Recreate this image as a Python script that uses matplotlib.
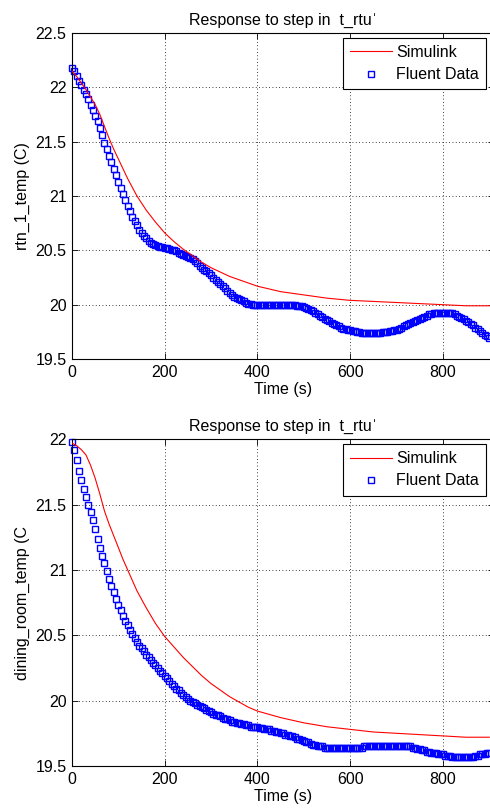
import numpy as np
import matplotlib.pyplot as plt

plt.rcParams['font.family'] = ['Liberation Sans', 'DejaVu Sans']

# Fluent data sampled every 5 s (0..900)
t_fluent = np.arange(0, 905, 5)

rtn_fluent = [
    22.18, 22.15, 22.10, 22.06, 22.02, 21.98, 21.94, 21.89, 21.84, 21.79,
    21.74, 21.69, 21.63, 21.56, 21.49, 21.43, 21.37, 21.31, 21.25, 21.19,
    21.13, 21.07, 21.02, 20.96, 20.91, 20.86, 20.81, 20.77, 20.73, 20.69,
    20.66, 20.63, 20.61, 20.59, 20.57, 20.56, 20.55, 20.54, 20.53, 20.53,
    20.52, 20.52, 20.51, 20.50, 20.50, 20.49, 20.48, 20.47, 20.46, 20.45,
    20.44, 20.43, 20.42, 20.40, 20.38, 20.36, 20.34, 20.32, 20.31, 20.29,
    20.27, 20.25, 20.23, 20.21, 20.19, 20.17, 20.15, 20.13, 20.11, 20.09,
    20.07, 20.06, 20.05, 20.04, 20.03, 20.02, 20.01, 20.01, 20.00, 20.00,
    20.00, 20.00, 20.00, 20.00, 20.00, 20.00, 20.00, 20.00, 20.00, 20.00,
    20.00, 20.00, 20.00, 20.00, 20.00, 20.00, 20.00, 19.99, 19.99, 19.99,
    19.98, 19.97, 19.96, 19.95, 19.94, 19.92, 19.91, 19.90, 19.89, 19.87,
    19.86, 19.85, 19.83, 19.82, 19.81, 19.80, 19.79, 19.78, 19.78, 19.77,
    19.77, 19.76, 19.76, 19.75, 19.75, 19.74, 19.74, 19.74, 19.74, 19.74,
    19.74, 19.74, 19.74, 19.74, 19.75, 19.75, 19.75, 19.76, 19.76, 19.77,
    19.77, 19.78, 19.79, 19.80, 19.81, 19.82, 19.83, 19.84, 19.85, 19.86,
    19.87, 19.88, 19.89, 19.90, 19.91, 19.91, 19.92, 19.92, 19.92, 19.92,
    19.92, 19.92, 19.92, 19.92, 19.92, 19.91, 19.90, 19.89, 19.88, 19.87,
    19.85, 19.84, 19.82, 19.81, 19.79, 19.78, 19.76, 19.74, 19.72, 19.71,
    19.69,
]

dining_fluent = [
    21.98, 21.92, 21.84, 21.76, 21.69, 21.62, 21.56, 21.50, 21.44, 21.38,
    21.31, 21.24, 21.17, 21.11, 21.05, 20.99, 20.93, 20.88, 20.83, 20.78,
    20.73, 20.69, 20.65, 20.61, 20.58, 20.54, 20.51, 20.48, 20.45, 20.42,
    20.40, 20.38, 20.35, 20.33, 20.31, 20.29, 20.27, 20.25, 20.23, 20.21,
    20.19, 20.17, 20.15, 20.13, 20.11, 20.09, 20.08, 20.06, 20.04, 20.03,
    20.01, 20.00, 19.99, 19.98, 19.97, 19.96, 19.95, 19.94, 19.93, 19.92,
    19.91, 19.90, 19.89, 19.89, 19.88, 19.87, 19.86, 19.86, 19.85, 19.84,
    19.84, 19.83, 19.83, 19.82, 19.82, 19.81, 19.81, 19.80, 19.80, 19.80,
    19.80, 19.79, 19.79, 19.78, 19.78, 19.78, 19.77, 19.77, 19.76, 19.76,
    19.75, 19.75, 19.74, 19.74, 19.73, 19.73, 19.72, 19.71, 19.71, 19.70,
    19.69, 19.68, 19.68, 19.67, 19.66, 19.66, 19.65, 19.65, 19.65, 19.64,
    19.64, 19.64, 19.64, 19.64, 19.64, 19.64, 19.64, 19.64, 19.64, 19.64,
    19.64, 19.64, 19.64, 19.64, 19.64, 19.64, 19.65, 19.65, 19.65, 19.65,
    19.65, 19.65, 19.65, 19.65, 19.65, 19.65, 19.65, 19.65, 19.65, 19.65,
    19.65, 19.65, 19.65, 19.65, 19.65, 19.65, 19.65, 19.64, 19.64, 19.63,
    19.63, 19.62, 19.62, 19.61, 19.61, 19.60, 19.60, 19.60, 19.59, 19.59,
    19.59, 19.58, 19.58, 19.58, 19.57, 19.57, 19.57, 19.57, 19.57, 19.57,
    19.57, 19.57, 19.57, 19.57, 19.58, 19.58, 19.59, 19.59, 19.59, 19.60,
    19.60,
]

# Simulink output
t_sim = [0, 10, 20, 30, 40, 50, 60, 70, 80, 90, 100, 110, 120, 130, 140,
         160, 180, 200, 220, 240, 260, 280, 300, 320, 340, 360, 380, 400,
         450, 500, 550, 600, 650, 700, 750, 800, 850, 900]
rtn_sim = [22.15, 22.10, 22.04, 21.98, 21.91, 21.84, 21.75, 21.64, 21.53,
           21.43, 21.34, 21.25, 21.16, 21.08, 21.00, 20.87, 20.76, 20.66,
           20.58, 20.51, 20.45, 20.39, 20.34, 20.30, 20.26, 20.23, 20.20,
           20.17, 20.12, 20.09, 20.06, 20.04, 20.03, 20.02, 20.01, 20.00,
           19.99, 19.99]
dining_sim = [21.97, 21.95, 21.92, 21.88, 21.80, 21.70, 21.58, 21.45, 21.35,
              21.26, 21.17, 21.08, 21.00, 20.92, 20.84, 20.71, 20.59, 20.49,
              20.41, 20.33, 20.26, 20.19, 20.13, 20.08, 20.03, 19.99, 19.95,
              19.92, 19.87, 19.83, 19.80, 19.78, 19.76, 19.75, 19.74, 19.73,
              19.72, 19.72]

fig = plt.figure(figsize=(4.9, 8.11), dpi=100)
ax1 = fig.add_axes([0.147, 0.5573, 0.861, 0.402])
ax2 = fig.add_axes([0.147, 0.0555, 0.861, 0.403])

panels = [
    (ax1, rtn_sim, rtn_fluent, 'rtn_1_temp (C)', (19.5, 22.5),
     [19.5, 20, 20.5, 21, 21.5, 22, 22.5]),
    (ax2, dining_sim, dining_fluent, 'dining_room_temp (C', (19.5, 22),
     [19.5, 20, 20.5, 21, 21.5, 22]),
]

for ax, sim, fluent, ylab, ylim, yticks in panels:
    ax.plot(t_sim, sim, color='red', linewidth=0.8, label='Simulink', zorder=3)
    ax.plot(t_fluent, fluent, linestyle='none', marker='s', markersize=4.6,
            markerfacecolor='none', markeredgecolor='blue',
            markeredgewidth=1.0, label='Fluent Data', zorder=2, clip_on=False)
    ax.set_xlim(0, 910)
    ax.set_ylim(*ylim)
    ax.set_xticks([0, 200, 400, 600, 800])
    ax.set_yticks(yticks)
    ax.set_yticklabels([('%g' % v) for v in yticks])
    ax.tick_params(direction='in', length=4, width=0.6, labelsize=11.5,
                   top=True, right=True, pad=4)
    ax.grid(True, color='black', linestyle=(0, (1, 3)), linewidth=0.6)
    for s in ax.spines.values():
        s.set_linewidth(0.8)
    ax.set_xlabel('Time (s)', fontsize=11.5, labelpad=2)
    ax.set_ylabel(ylab, fontsize=11.5, labelpad=4)
    ax.set_title('Response to step in  t_rtu\u02c8', fontsize=11.5, pad=6)
    leg = ax.legend(loc='upper right', bbox_to_anchor=(0.982, 0.985),
                    fontsize=11.5, fancybox=False, framealpha=1,
                    edgecolor='black', handlelength=2.6, borderpad=0.45,
                    labelspacing=0.45, handletextpad=0.3, borderaxespad=0)
    leg.get_frame().set_linewidth(0.8)

fig.savefig('out.png', dpi=100)
